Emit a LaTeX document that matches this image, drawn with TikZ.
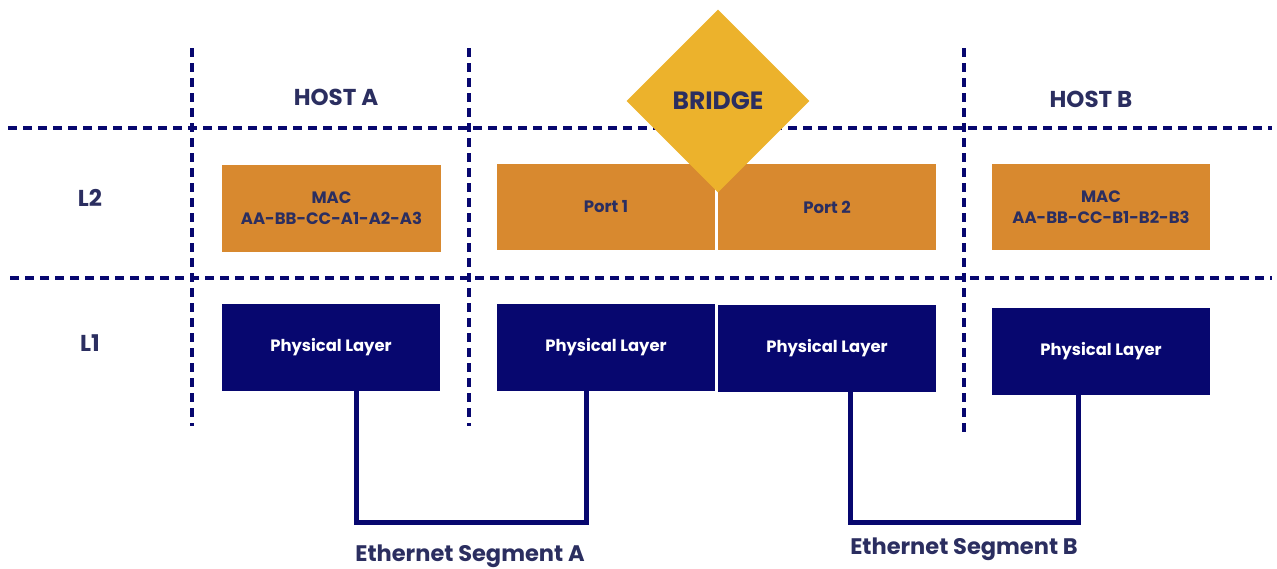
\documentclass[tikz,border=0pt]{standalone}
\usepackage{fontspec}
\setmainfont{Poppins}
\usetikzlibrary{shapes.geometric}
\definecolor{navy}{HTML}{07076F}
\definecolor{inkblue}{HTML}{2B2E60}
\definecolor{macorange}{HTML}{D8892F}
\definecolor{bridgegold}{HTML}{ECB22C}
\tikzset{
  grid/.style={navy, line width=3.5pt, dash pattern=on 9pt off 6pt},
  layerbox/.style={rectangle, inner sep=0pt, minimum width=218pt, minimum height=86pt, align=center},
  l2box/.style={layerbox, fill=macorange, text=inkblue, font=\bfseries\fontsize{16.5}{21}\selectfont},
  l1box/.style={layerbox, fill=navy, text=white, font=\bfseries\fontsize{16.4}{20}\selectfont},
  heading/.style={text=inkblue, font=\bfseries\fontsize{23}{27}\selectfont},
  segment/.style={navy, line width=5pt, line join=miter},
  seglabel/.style={text=inkblue, font=\bfseries\fontsize{22.5}{26}\selectfont}
}
\begin{document}
\begin{tikzpicture}[x=1pt, y=-1pt]
\useasboundingbox (0,0) rectangle (1277,568);

% layer separators and column separators
\coordinate (h1l) at (8,128);   \coordinate (h1r) at (1272,128);
\coordinate (h2l) at (10,278);  \coordinate (h2r) at (1272,278);
\coordinate (v1t) at (192,48);  \coordinate (v1b) at (192,426);
\coordinate (v2t) at (469,48);  \coordinate (v2b) at (469,426);
\coordinate (v3t) at (964,48);  \coordinate (v3b) at (964,433);
\draw[grid] (h1l) -- (h1r);
\draw[grid] (h2l) -- (h2r);
\draw[grid] (v1t) -- (v1b);
\draw[grid] (v2t) -- (v2b);
\draw[grid] (v3t) -- (v3b);

% row and column headings
\node[heading] (hosta) at (336,97) {HOST A};
\node[heading] (hostb) at (1091,99) {HOST B};
\node[heading] (l2) at (90,198) {L2};
\node[heading] (l1) at (90,343) {L1};

% layer 2 boxes
\node[l2box, minimum width=219pt, minimum height=87pt] (maca) at (331.5,208.5) {MAC\\AA-BB-CC-A1-A2-A3};
\node[l2box] (port1) at (606,207) {Port 1};
\node[l2box] (port2) at (827,207) {Port 2};
\node[l2box] (macb) at (1101,207) {MAC\\AA-BB-CC-B1-B2-B3};

% layer 1 boxes
\node[l1box, minimum height=87pt] (phya) at (331,347.5) {Physical Layer};
\node[l1box, minimum height=87pt] (phy1) at (606,347.5) {Physical Layer};
\node[l1box, minimum height=87pt] (phy2) at (827,348.5) {Physical Layer};
\node[l1box, minimum height=87pt] (phyb) at (1101,351.5) {Physical Layer};

% bridge diamond on top of the ports
\node[diamond, fill=bridgegold, inner sep=0pt, minimum width=183pt, minimum height=183pt,
      text=inkblue, font=\bfseries\fontsize{25}{29}\selectfont] (bridge) at (718,101) {BRIDGE};

% ethernet segments
\coordinate (sa1) at (356,522);
\coordinate (sa2) at (586,522);
\coordinate (sb1) at (850,522);
\coordinate (sb2) at (1078,522);
\draw[segment] (sa1 |- phya.south) -- (sa1) -- (sa2) -- (sa2 |- phy1.south);
\draw[segment] (sb1 |- phy2.south) -- (sb1) -- (sb2) -- (sb2 |- phyb.south);

\node[seglabel] (sega) at (470,556) {Ethernet Segment A};
\node[seglabel] (segb) at (964,549) {Ethernet Segment B};
\end{tikzpicture}
\end{document}
